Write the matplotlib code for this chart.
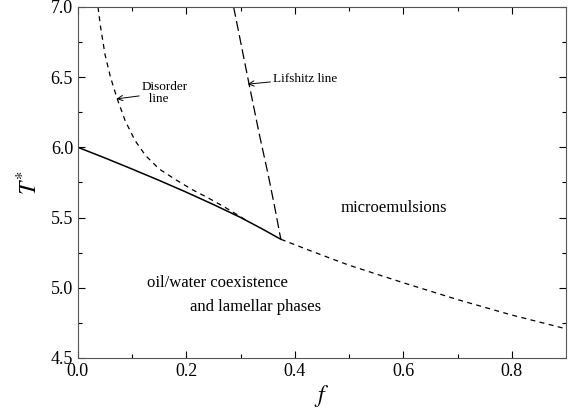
import matplotlib
matplotlib.use('Agg')
import matplotlib.pyplot as plt
import numpy as np

plt.rcParams['font.family'] = ['Liberation Serif', 'DejaVu Serif']
plt.rcParams['mathtext.fontset'] = 'stix'

# coexistence boundary (solid), f vs T*
coex_f = [0.0, 0.05, 0.1, 0.15, 0.2, 0.25, 0.3, 0.34, 0.374]
coex_t = [6.0, 5.924, 5.845, 5.764, 5.68, 5.592, 5.5, 5.418, 5.345]

# continuation of the boundary (short dashes)
cont_f = [0.374, 0.424, 0.472, 0.5, 0.6, 0.7, 0.8, 0.9]
cont_t = [5.345, 5.27, 5.2, 5.16, 5.035, 4.915, 4.805, 4.707]

# disorder line (short dashes)
dis_f = [0.037, 0.042, 0.05, 0.06, 0.072, 0.087, 0.105, 0.125, 0.15,
         0.18, 0.21, 0.24, 0.27, 0.30, 0.31]
dis_t = [7.0, 6.85, 6.66, 6.5, 6.35, 6.19, 6.05, 5.94, 5.845,
         5.77, 5.70, 5.64, 5.575, 5.505, 5.48]

# Lifshitz line (long dashes)
lif_f = [0.287, 0.30, 0.315, 0.334, 0.351, 0.364, 0.374]
lif_t = [7.0, 6.75, 6.46, 6.1, 5.8, 5.55, 5.345]

fig = plt.figure(figsize=(5.73, 4.09), dpi=100)
ax = fig.add_axes([0.136, 0.125, 0.852, 0.858])

ax.plot(coex_f, coex_t, color='black', lw=1.1)
ax.plot(cont_f, cont_t, color='black', lw=0.9, dashes=(4, 3.5))
ax.plot(dis_f, dis_t, color='black', lw=0.9, dashes=(4, 3.5))
ax.plot(lif_f, lif_t, color='black', lw=0.9, dashes=(8, 3.5))

ax.annotate('Disorder\n  line', xy=(0.071, 6.345), xytext=(0.118, 6.39),
            fontsize=9.5, va='center', ha='left', linespacing=1.0,
            arrowprops=dict(arrowstyle='->', color='black', lw=0.7,
                            shrinkA=0, shrinkB=0))
ax.annotate('Lifshitz line', xy=(0.313, 6.45), xytext=(0.36, 6.49),
            fontsize=9.5, va='center', ha='left',
            arrowprops=dict(arrowstyle='->', color='black', lw=0.7,
                            shrinkA=0, shrinkB=0))

ax.text(0.582, 5.57, 'microemulsions', fontsize=12, ha='center', va='center')
ax.text(0.128, 5.03, 'oil/water coexistence', fontsize=12, ha='left', va='center')
ax.text(0.207, 4.865, 'and lamellar phases', fontsize=12, ha='left', va='center')

ax.set_xlim(0, 0.9)
ax.set_ylim(4.5, 7.0)
ax.set_xticks([0.0, 0.2, 0.4, 0.6, 0.8])
ax.set_xticks(np.arange(0.1, 0.9, 0.2), minor=True)
ax.set_yticks([4.5, 5.0, 5.5, 6.0, 6.5, 7.0])
ax.set_yticks([4.75, 5.25, 5.75, 6.25, 6.75], minor=True)
ax.tick_params(which='both', direction='in', top=True, right=True,
               labelsize=13, width=0.8)
ax.tick_params(which='major', length=5)
ax.tick_params(which='minor', length=3)
for s in ax.spines.values():
    s.set_linewidth(0.8)
    s.set_color('#555555')

ax.set_xlabel('$f$', fontsize=17, labelpad=2)
ax.set_ylabel('$T^{*}$', fontsize=17, labelpad=6)

fig.savefig('out.png', dpi=100)
